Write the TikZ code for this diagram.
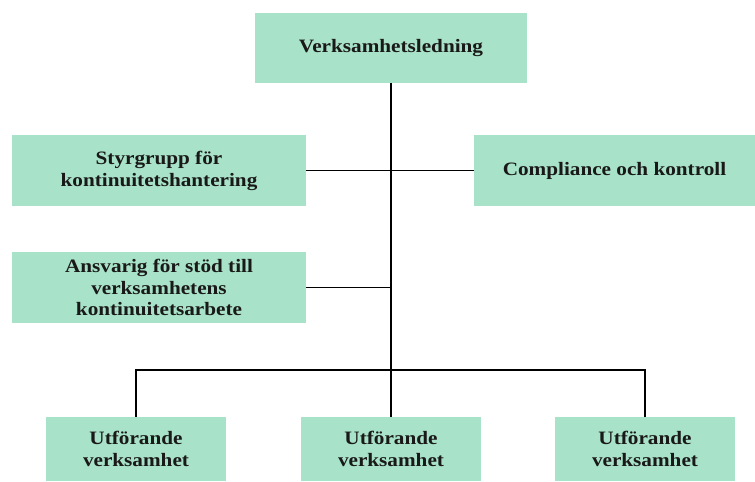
\documentclass[tikz,border=0pt]{standalone}
\usepackage{fontspec}
\newfontfamily\boxfont[FakeStretch=1.12]{Liberation Serif}
\begin{document}
\begin{tikzpicture}[x=1bp,y=-1bp,
  unit/.style={fill=boxgreen,draw=none,align=center,inner sep=0pt,
    font=\boxfont\fontsize{19}{22}\selectfont\bfseries,text=black!90},
  link/.style={draw=black,line width=1.5bp}]
\definecolor{boxgreen}{RGB}{168,226,200}
\useasboundingbox (0,0) rectangle (755,482);
% top management
\node[unit,minimum width=272bp,minimum height=70bp] (lead) at (391,48) {Verksamhetsledning};
% staff functions
\node[unit,minimum width=294bp,minimum height=71bp] (steer) at (159,170.5) {Styrgrupp för\\kontinuitetshantering};
\node[unit,minimum width=281bp,minimum height=71bp] (comp) at (614.5,170.5) {Compliance och kontroll};
\node[unit,minimum width=294bp,minimum height=71bp] (supp) at (159,287.5) {Ansvarig för stöd till\\verksamhetens\\kontinuitetsarbete};
% operating units
\node[unit,minimum width=180bp,minimum height=64bp] (op1) at (136,449) {Utförande\\verksamhet};
\node[unit,minimum width=180bp,minimum height=64bp] (op2) at (391,449) {Utförande\\verksamhet};
\node[unit,minimum width=180bp,minimum height=64bp] (op3) at (645,449) {Utförande\\verksamhet};
\coordinate (spine) at (391,287.5);
\coordinate (bus) at (391,370);
% connectors
\draw[link] (lead.south) -- (op2.north);
\draw[link] (steer.east) -- (comp.west);
\draw[link] (supp.east) -- (spine);
\draw[link] (op1.north) |- (bus) -| (op3.north);
\end{tikzpicture}
\end{document}
